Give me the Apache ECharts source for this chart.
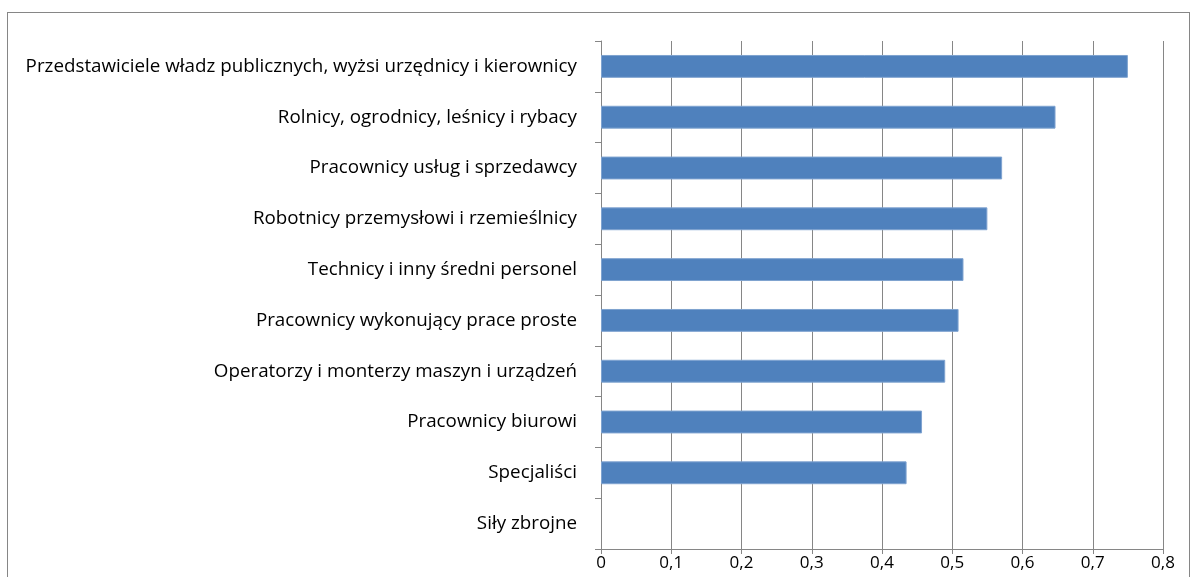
<!DOCTYPE html>
<html>
<head>
<meta charset="utf-8">
<script src="https://cdn.jsdelivr.net/npm/echarts@6/dist/echarts.min.js"></script>
<style>
html,body{margin:0;padding:0;background:#fff;}
#frame{position:absolute;left:7px;top:12px;width:1183px;height:570px;border:1px solid #868686;box-sizing:border-box;}
#chart{position:absolute;left:0;top:0;width:1192px;height:577px;}
</style>
</head>
<body>
<div id="frame"></div>
<div id="chart"></div>
<script>
const categories = [
  "Przedstawiciele władz publicznych, wyżsi urzędnicy i kierownicy",
  "Rolnicy, ogrodnicy, leśnicy i rybacy",
  "Pracownicy usług i sprzedawcy",
  "Robotnicy przemysłowi i rzemieślnicy",
  "Technicy i inny średni personel",
  "Pracownicy wykonujący prace proste",
  "Operatorzy i monterzy maszyn i urządzeń",
  "Pracownicy biurowi",
  "Specjaliści",
  "Siły zbrojne"
];
const values = [0.750, 0.647, 0.571, 0.550, 0.516, 0.509, 0.490, 0.457, 0.435, 0];
const xTicks = { min: 0, max: 0.8, interval: 0.1 };

const chart = echarts.init(document.getElementById('chart'), null, {renderer: 'canvas'});
const fontFamily = "'Open Sans', 'Noto Sans', sans-serif";
chart.setOption({
  animation: false,
  grid: { left: 601, right: 29, top: 41, bottom: 28, containLabel: false },
  xAxis: {
    type: 'value',
    min: xTicks.min, max: xTicks.max, interval: xTicks.interval,
    axisLine: { show: true, lineStyle: { color: '#868686', width: 1 } },
    axisTick: { show: true, length: 5, lineStyle: { color: '#868686' } },
    splitLine: { show: true, lineStyle: { color: '#868686', width: 1 } },
    axisLabel: {
      color: '#000', fontSize: 17, fontFamily: fontFamily, margin: 6,
      formatter: v => String(Math.round(v * 10) / 10).replace('.', ',')
    }
  },
  yAxis: {
    type: 'category',
    inverse: true,
    data: categories,
    axisLine: { show: true, lineStyle: { color: '#868686', width: 1 } },
    axisTick: { show: true, length: 6, alignWithLabel: false, lineStyle: { color: '#868686' } },
    axisLabel: { color: '#000', fontSize: 18.8, fontFamily: fontFamily, margin: 24 }
  },
  series: [{
    type: 'bar',
    data: values.map(v => v === 0 ? { value: v, itemStyle: { borderWidth: 0 } } : v),
    barCategoryGap: '55%',
    itemStyle: { color: '#4F81BD', borderColor: '#7FA3D0', borderWidth: 1 }
  }]
});
</script>
</body>
</html>
